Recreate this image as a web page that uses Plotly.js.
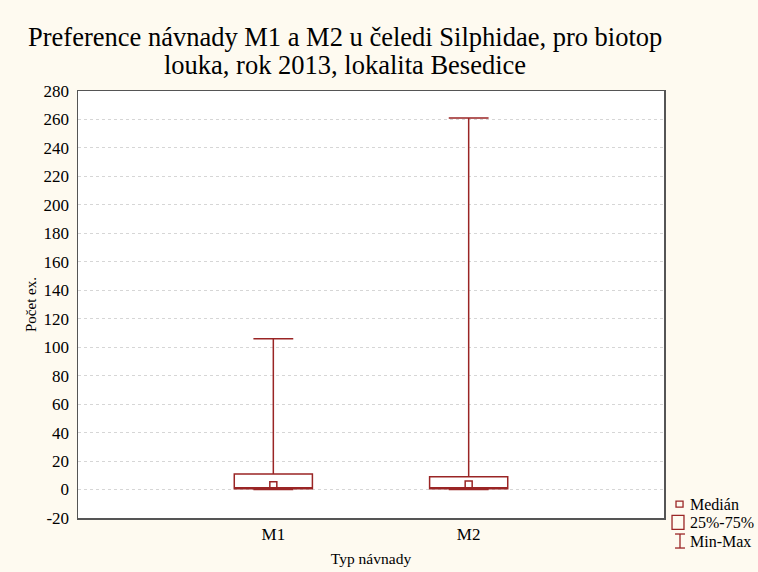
<!DOCTYPE html>
<html>
<head>
<meta charset="utf-8">
<script src="https://cdn.plot.ly/plotly-3.0.1.min.js"></script>
<style>html,body{margin:0;padding:0;background:#fefaf0;}#chart{width:758px;height:572px;}</style>
</head>
<body>
<div id="chart"></div>
<script>
// Data
const categories = ['M1', 'M2'];
const minVals = [0, 0];
const q1Vals = [0.5, 0.5];
const medianVals = [3, 3.5];
const q3Vals = [11, 9];
const maxVals = [106, 261];
const yTickVals = [-20, 0, 20, 40, 60, 80, 100, 120, 140, 160, 180, 200, 220, 240, 260, 280];
const yTickText = ['-20', '0', '20', '40', '60', '80', '100', '120', '140', '160', '180', '200', '220', '240', '260', '280'];
const legendLabels = ['Medián', '25%-75%', 'Min-Max'];
const titleLines = ['Preference návnady M1 a M2 u čeledi Silphidae, pro biotop', 'louka, rok 2013, lokalita Besedice'];

const red = '#9a2525';
const serif = '"Liberation Serif", "DejaVu Serif", serif';

const boxTrace = {
  type: 'box',
  x: categories,
  q1: q1Vals,
  median: q1Vals, // median is drawn separately as a square marker
  q3: q3Vals,
  lowerfence: minVals,
  upperfence: maxVals,
  width: 0.4,
  whiskerwidth: 0.51,
  line: {color: red, width: 1.5},
  fillcolor: 'rgba(255,255,255,0)',
  boxpoints: false,
  hoverinfo: 'skip',
  showlegend: false
};

const medTrace = {
  type: 'scatter',
  mode: 'markers',
  x: categories,
  y: medianVals,
  marker: {symbol: 'square-open', size: 7, color: red, line: {color: red, width: 1.5}},
  showlegend: false,
  hoverinfo: 'skip'
};

// Custom legend (shapes + annotations in paper coordinates)
const legendShapes = [
  {type: 'rect', xref: 'paper', yref: 'paper', x0: 1.0205, x1: 1.0325, y0: 0.0255, y1: 0.0395, line: {color: red, width: 1.3}},
  {type: 'rect', xref: 'paper', yref: 'paper', x0: 1.0137, x1: 1.0341, y0: -0.0265, y1: 0.0062, line: {color: red, width: 1.3}},
  {type: 'line', xref: 'paper', yref: 'paper', x0: 1.0273, x1: 1.0273, y0: -0.0703, y1: -0.0375, line: {color: red, width: 1.3}},
  {type: 'line', xref: 'paper', yref: 'paper', x0: 1.0188, x1: 1.0358, y0: -0.0375, y1: -0.0375, line: {color: red, width: 1.3}},
  {type: 'line', xref: 'paper', yref: 'paper', x0: 1.0188, x1: 1.0358, y0: -0.0703, y1: -0.0703, line: {color: red, width: 1.3}}
];
const legendY = [0.0325, -0.0105, -0.054];
const annotations = legendLabels.map((t, i) => ({
  text: t, xref: 'paper', yref: 'paper', x: 1.041, y: legendY[i],
  xanchor: 'left', yanchor: 'middle', showarrow: false,
  font: {family: serif, size: 16, color: '#000'}
}));
const titleY = [1.126, 1.06];
titleLines.forEach((t, i) => annotations.push({
  text: t, xref: 'paper', yref: 'paper', x: 0.4556, y: titleY[i],
  xanchor: 'center', yanchor: 'middle', showarrow: false,
  font: {family: serif, size: 26.5, color: '#000'}
}));

const layout = {
  width: 758, height: 572,
  paper_bgcolor: '#fefaf0',
  plot_bgcolor: '#ffffff',
  margin: {l: 78, r: 94, t: 91, b: 54},
  xaxis: {
    type: 'category',
    range: [-1, 2],
    showgrid: false,
    zeroline: false,
    showline: true, mirror: true, linecolor: '#555', linewidth: 1.5,
    ticks: '',
    tickfont: {family: serif, size: 17, color: '#000'},
    title: {text: 'Typ návnady', font: {family: serif, size: 15.5, color: '#000'}, standoff: 10}
  },
  yaxis: {
    range: [-20, 280],
    tickvals: yTickVals,
    ticktext: yTickText,
    showgrid: true, gridcolor: '#d6d6d6', griddash: 'dot', gridwidth: 1,
    zeroline: false,
    showline: true, mirror: true, linecolor: '#555', linewidth: 1.5,
    ticks: '',
    ticklabelstandoff: 4,
    tickfont: {family: serif, size: 17, color: '#000'},
    title: {text: 'Počet ex.', font: {family: serif, size: 15, color: '#000'}, standoff: 3}
  },
  shapes: legendShapes,
  annotations: annotations,
  showlegend: false
};

Plotly.newPlot('chart', [boxTrace, medTrace], layout, {displayModeBar: false, staticPlot: true});
</script>
</body>
</html>
